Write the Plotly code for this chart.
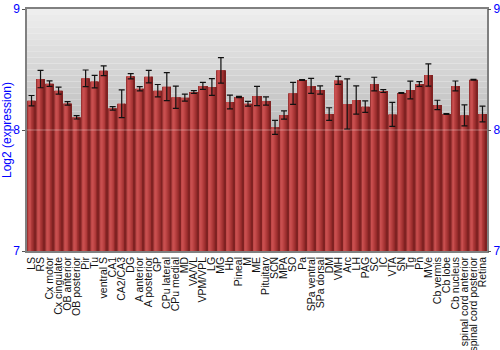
import plotly.graph_objects as go

regions = ["LS", "RS", "Cx motor", "Cx cingulate", "OB anterior", "OB posterior", "Pir", "Tu",
           "ventral S", "CA1", "CA2/CA3", "DG", "A anterior", "A posterior", "GP", "CPu lateral",
           "CPu medial", "MD", "VA/VL", "VPM/VPL", "LG", "MG", "Hb", "Pineal", "M", "ME",
           "Pituitary", "SCN", "MPA", "SO", "Pa", "SPa ventral", "SPa dorsal", "DM", "VMH", "Arc",
           "LH", "PAG", "SC", "IC", "VTA", "SN", "Tg", "Pn", "MVe", "Cb vermis", "Cb lobe",
           "Cb nucleus", "spinal cord anterior", "spinal cord posterior", "Retina"]

expression = [8.242, 8.421, 8.383, 8.325, 8.220, 8.105, 8.427, 8.400,
              8.490, 8.179, 8.217, 8.444, 8.341, 8.441, 8.325, 8.358,
              8.270, 8.267, 8.314, 8.364, 8.355, 8.493, 8.231, 8.273, 8.217, 8.281,
              8.240, 8.022, 8.124, 8.303, 8.413, 8.364, 8.331, 8.132, 8.410, 8.215,
              8.248, 8.193, 8.380, 8.322, 8.129, 8.306, 8.331, 8.380, 8.455, 8.207, 8.132,
              8.364, 8.121, 8.416, 8.132]

errors = [0.043, 0.072, 0.023, 0.029, 0.014, 0.014, 0.069, 0.052,
          0.040, 0.015, 0.114, 0.022, 0.018, 0.052, 0.051, 0.116,
          0.092, 0.029, 0.011, 0.029, 0.069, 0.105, 0.057, 0.005, 0.020, 0.080,
          0.034, 0.058, 0.034, 0.091, 0.004, 0.062, 0.034, 0.052, 0.033, 0.208,
          0.116, 0.047, 0.056, 0.012, 0.099, 0.003, 0.073, 0.019, 0.092, 0.039, 0.003,
          0.041, 0.087, 0.003, 0.065]

y_ticks = [7, 8, 9]
y_range = [7, 9]

stripe_colors = ["#9a3434", "#bf4848", "#c84f4f", "#c44a4a", "#ba4242",
                 "#ae3a3a", "#a23232", "#942a2a", "#802222"]

fig = go.Figure()

bar_w = 0.92
n = len(stripe_colors)
sw = bar_w / n
for i, c in enumerate(stripe_colors):
    fig.add_trace(go.Bar(
        x=regions, y=expression, width=sw * 1.05, offset=-bar_w / 2 + i * sw,
        marker=dict(color=c, line=dict(width=0)),
        showlegend=False, hoverinfo="skip"))

fig.add_trace(go.Scatter(
    x=regions, y=expression, mode="markers",
    marker=dict(opacity=0, size=1),
    error_y=dict(type="data", array=errors, visible=True, color="#111111",
                 thickness=1.2, width=3),
    showlegend=False, hoverinfo="skip"))

# invisible trace to carry the mirrored right axis
fig.add_trace(go.Scatter(
    x=regions, y=expression, mode="markers", marker=dict(opacity=0, size=1),
    yaxis="y2", showlegend=False, hoverinfo="skip"))

# background gradient
shapes = []
steps = 40
top_c = (238, 238, 238)
bot_c = (180, 180, 180)
for k in range(steps):
    t = k / steps
    y1 = 9 - 2 * t
    y0 = 9 - 2 * (k + 1) / steps
    cc = tuple(int(round(top_c[j] + (bot_c[j] - top_c[j]) * min(1, t * 1.8))) for j in range(3))
    shapes.append(dict(type="rect", xref="paper", yref="y", x0=0, x1=1, y0=y0, y1=y1,
                       fillcolor="rgb(%d,%d,%d)" % cc, line=dict(width=0), layer="below"))
shapes.append(dict(type="line", xref="paper", yref="y", x0=0, x1=1, y0=8, y1=8,
                   line=dict(color="rgba(255,255,255,0.35)", width=1), layer="above"))

fig.update_layout(
    width=500, height=350,
    margin=dict(l=27, r=13, t=9, b=99),
    barmode="overlay",
    plot_bgcolor="white", paper_bgcolor="white",
    font=dict(family="Liberation Sans, Arial, sans-serif"),
    shapes=shapes,
    xaxis=dict(type="category", categoryorder="array", categoryarray=regions,
               tickmode="array", tickvals=regions, ticktext=regions,
               range=[-0.5, len(regions) - 0.5], tickangle=-90,
               tickfont=dict(size=10.5, color="#111111"), ticks="", showgrid=False,
               showline=True, linecolor="#808080", linewidth=1.5, mirror=True,
               automargin=False),
    yaxis=dict(range=y_range, tickvals=y_ticks, ticks="outside", ticklen=3,
               tickcolor="#555555", tickfont=dict(size=12, color="#0000ff"),
               showgrid=False, zeroline=False, showline=True, linecolor="#808080",
               linewidth=1.5, mirror=True,
               title=dict(text="Log2 (expression)", font=dict(size=12, color="#0000ff"),
                          standoff=2),
               automargin=False),
    yaxis2=dict(range=y_range, tickvals=y_ticks, overlaying="y", side="right",
                ticks="outside", ticklen=3, tickcolor="#555555", ticklabelstandoff=0,
                tickfont=dict(size=12, color="#0000ff"), showgrid=False,
                zeroline=False, showline=False, automargin=False),
)

fig.write_html("out.html")
